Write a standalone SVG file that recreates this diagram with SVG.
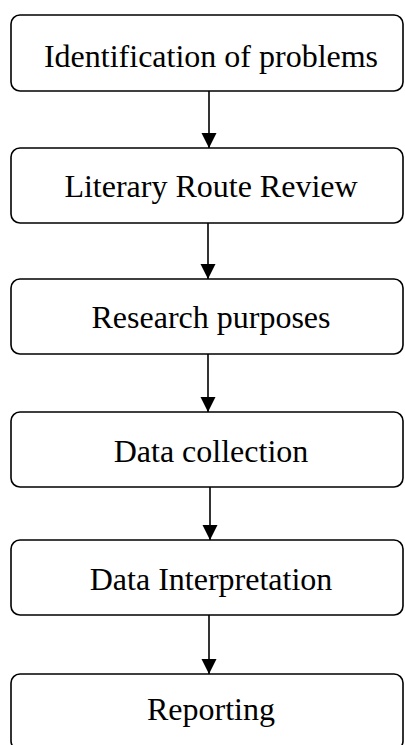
<svg xmlns="http://www.w3.org/2000/svg" width="405" height="745" viewBox="0 0 405 745">
<style>
.box{fill:#fff;stroke:#000;stroke-width:1.6}
.lbl{font-family:"Liberation Serif","Times New Roman",serif;font-size:32px;fill:#000;text-anchor:middle}
.edge{stroke:#000;stroke-width:1.6;fill:none;marker-end:url(#ah)}
</style>
<defs>
<marker id="ah" markerUnits="userSpaceOnUse" markerWidth="16" markerHeight="16" refX="15" refY="7.5" orient="auto">
<path d="M0,0 L15,7.5 L0,15 Z" fill="#000"/>
</marker>
</defs>
<rect width="405" height="745" fill="#fff"/>
<g id="connectors">
<line class="edge" x1="209" y1="91" x2="209" y2="148"/>
<line class="edge" x1="208" y1="223" x2="208" y2="279"/>
<line class="edge" x1="208" y1="354" x2="208" y2="412"/>
<line class="edge" x1="210" y1="487" x2="210" y2="540"/>
<line class="edge" x1="209" y1="615" x2="209" y2="674"/>
</g>
<g id="n1"><rect class="box" x="11" y="15" width="392" height="76" rx="9"/><text class="lbl" x="211" y="67">Identification of problems</text></g>
<g id="n2"><rect class="box" x="11" y="148" width="392" height="75" rx="9"/><text class="lbl" x="211" y="197">Literary Route Review</text></g>
<g id="n3"><rect class="box" x="11" y="279" width="392" height="75" rx="9"/><text class="lbl" x="211" y="328">Research purposes</text></g>
<g id="n4"><rect class="box" x="11" y="412" width="392" height="75" rx="9"/><text class="lbl" x="211" y="462">Data collection</text></g>
<g id="n5"><rect class="box" x="11" y="540" width="392" height="75" rx="9"/><text class="lbl" x="211" y="590">Data Interpretation</text></g>
<g id="n6"><rect class="box" x="11" y="674" width="392" height="76" rx="9"/><text class="lbl" x="211" y="720">Reporting</text></g>
</svg>
